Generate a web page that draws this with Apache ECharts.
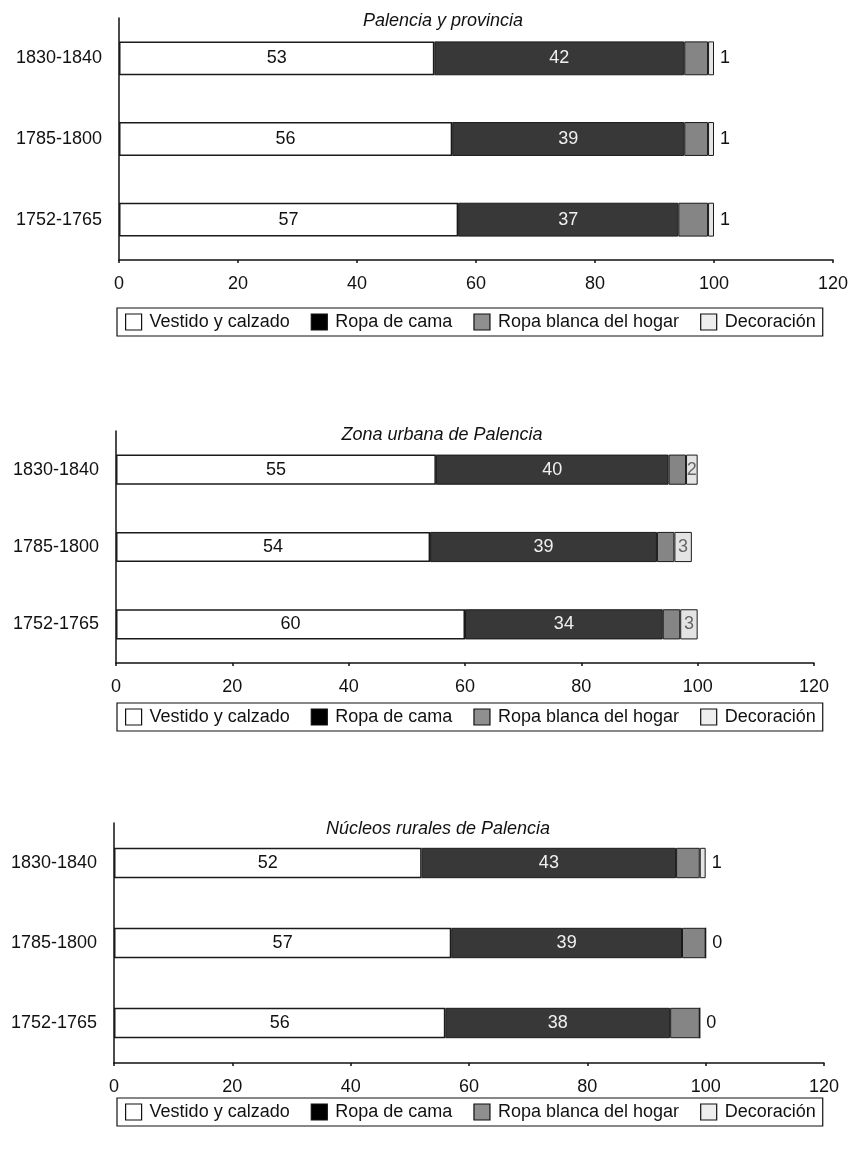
<!DOCTYPE html>
<html>
<head>
<meta charset="utf-8">
<script src="https://cdn.jsdelivr.net/npm/echarts@6/dist/echarts.min.js"></script>
<style>
html,body{margin:0;padding:0;background:#fff;}
#c{width:852px;height:1160px;}
</style>
</head>
<body>
<div id="c"></div>
<script>
// ---- data ----
const categories = ['1752-1765', '1785-1800', '1830-1840'];
const seriesNames = ['Vestido y calzado', 'Ropa de cama', 'Ropa blanca del hogar', 'Decoración'];
const titles = ['Palencia y provincia', 'Zona urbana de Palencia', 'Núcleos rurales de Palencia'];
const xTicks = [0, 20, 40, 60, 80, 100, 120];

// Palencia y provincia
const p1Vestido = [57, 56, 53];
const p1Cama = [37, 39, 42];
const p1Blanca = [5, 4, 4];
const p1Deco = [1, 1, 1];
// Zona urbana
const p2Vestido = [60, 54, 55];
const p2Cama = [34, 39, 40];
const p2Blanca = [3, 3, 3];
const p2Deco = [3, 3, 2];
// Núcleos rurales
const p3Vestido = [56, 57, 52];
const p3Cama = [38, 39, 43];
const p3Blanca = [5, 4, 4];
const p3Deco = [0, 0, 1];

const panels = [
  [p1Vestido, p1Cama, p1Blanca, p1Deco],
  [p2Vestido, p2Cama, p2Blanca, p2Deco],
  [p3Vestido, p3Cama, p3Blanca, p3Deco]
];

// ---- layout ----
const FONT = '"Liberation Sans", Arial, sans-serif';
const FS = 18;
const grids = [
  {left: 119, top: 18, width: 714, height: 242},
  {left: 116, top: 431, width: 698, height: 232},
  {left: 114, top: 823, width: 710, height: 240}
];
const barWidths = ['42%', '39%', '38%'];
const titleTops = [7, 421, 815];
const titleCenters = [438, 437, 433];
const legendTops = [308, 703, 1098];
const decoLabelPos = ['right', 'inside', 'right'];

const colors = ['#ffffff', '#383838', '#858585', '#e4e4e4'];
const legendIconColors = ['#ffffff', '#000000', '#8f8f8f', '#eeeeee'];

const option = {
  animation: false,
  backgroundColor: '#fff',
  textStyle: {fontFamily: FONT},
  title: titles.map((t, i) => ({
    text: t,
    left: titleCenters[i],
    textAlign: 'center',
    top: titleTops[i],
    textStyle: {fontFamily: FONT, fontSize: FS, fontStyle: 'italic', fontWeight: 'normal', color: '#111'}
  })),
  legend: legendTops.map((t) => ({
    left: 117,
    top: t,
    orient: 'horizontal',
    padding: [5, 7, 5, 8],
    itemGap: 21,
    itemWidth: 16,
    itemHeight: 16,
    borderColor: '#111',
    borderWidth: 1.2,
    selectedMode: false,
    textStyle: {fontFamily: FONT, fontSize: FS, color: '#111', padding: [0, 0, 0, 3]},
    data: seriesNames.map((n, k) => ({
      name: n,
      icon: 'rect',
      itemStyle: {color: legendIconColors[k], borderColor: '#111', borderWidth: 1.2}
    }))
  })),
  grid: grids.map(g => Object.assign({containLabel: false}, g)),
  xAxis: grids.map((g, i) => ({
    type: 'value',
    gridIndex: i,
    min: xTicks[0],
    max: xTicks[xTicks.length - 1],
    interval: xTicks[1] - xTicks[0],
    axisLine: {show: true, lineStyle: {color: '#111', width: 1.5}},
    axisTick: {show: true, length: 3, lineStyle: {color: '#111', width: 1.5}},
    splitLine: {show: false},
    axisLabel: {fontFamily: FONT, fontSize: FS, color: '#111', margin: 15}
  })),
  yAxis: grids.map((g, i) => ({
    type: 'category',
    gridIndex: i,
    data: categories,
    axisLine: {show: true, lineStyle: {color: '#111', width: 1.5}},
    axisTick: {show: false},
    axisLabel: {fontFamily: FONT, fontSize: FS, color: '#111', margin: 17}
  })),
  series: []
};

panels.forEach((vals, gi) => {
  vals.forEach((arr, k) => {
    let label = {show: false};
    if (k === 0) label = {show: true, position: 'inside', color: '#111', fontSize: FS, fontFamily: FONT};
    if (k === 1) label = {show: true, position: 'inside', color: '#f0f0f0', fontSize: FS, fontFamily: FONT};
    if (k === 3) label = {
      show: true, position: decoLabelPos[gi], distance: 6,
      color: decoLabelPos[gi] === 'inside' ? '#666' : '#111', fontSize: FS, fontFamily: FONT
    };
    option.series.push({
      name: seriesNames[k],
      type: 'bar',
      xAxisIndex: gi,
      yAxisIndex: gi,
      stack: 'g' + gi,
      barWidth: barWidths[gi],
      data: arr,
      label: label,
      itemStyle: {
        color: colors[k],
        borderColor: '#1a1a1a',
        borderWidth: k === 0 ? 1.5 : 1
      }
    });
  });
});

const chart = echarts.init(document.getElementById('c'), null, {renderer: 'canvas'});
chart.setOption(option);
</script>
</body>
</html>
